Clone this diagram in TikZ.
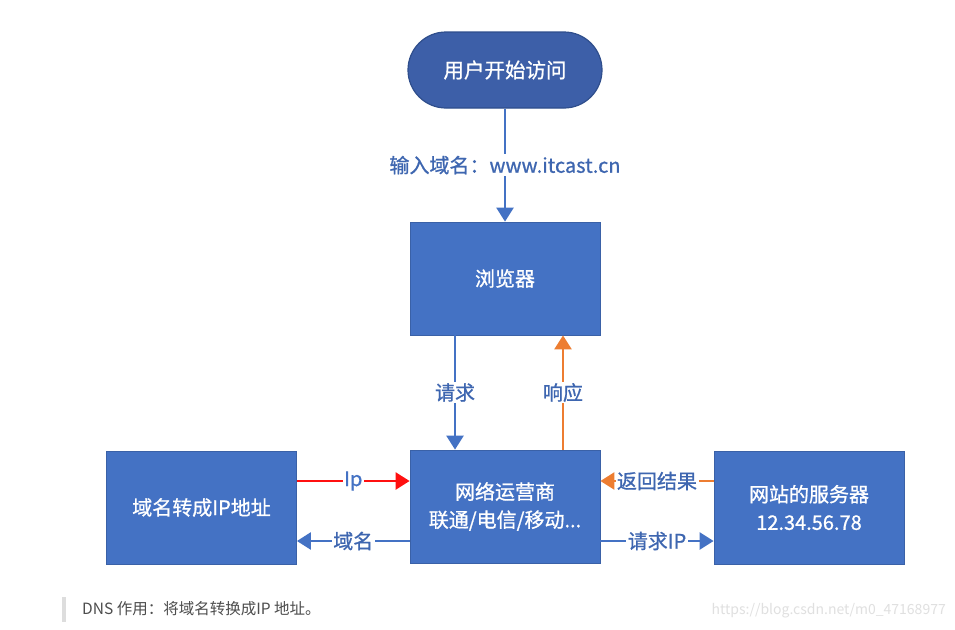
\documentclass[tikz,border=0pt]{standalone}
\usepackage{fontspec}
\setmainfont{Noto Sans CJK SC}
\newfontfamily\medfont[FakeBold=0.9]{Noto Sans CJK SC}
\usetikzlibrary{arrows.meta,calc}
\definecolor{boxblue}{HTML}{4472C4}
\definecolor{darkblue}{HTML}{3D5FA8}
\definecolor{edgeblue}{HTML}{2F4E8C}
\definecolor{lblblue}{HTML}{3E66B0}
\definecolor{orng}{HTML}{ED7D31}
\definecolor{redc}{HTML}{FF1010}
\definecolor{notegray}{HTML}{4D4D4D}
\definecolor{barg}{HTML}{DDDDDD}
\definecolor{wmark}{HTML}{E0E0E0}
\begin{document}
\begin{tikzpicture}[x=1pt,y=-1pt,
  blk/.style={draw=boxblue!85!black,line width=0.8pt,fill=boxblue,text=white,minimum width=190pt,minimum height=113pt,inner sep=0pt,font=\medfont\fontsize{20}{28}\selectfont,align=center},
  term/.style={draw=edgeblue,line width=1.2pt,fill=darkblue,text=white,rounded corners=38pt,minimum width=194pt,minimum height=76pt,font=\medfont\fontsize{20.5}{24}\selectfont},
  conn/.style={line width=2.5pt,-{Triangle[width=17pt,length=14pt]}},
  lbl/.style={fill=white,inner sep=1.5pt,text=lblblue,font=\medfont\fontsize{20}{24}\selectfont}
]
\useasboundingbox[fill=white] (0,0) rectangle (955,629);
\node[term] (start) at (505,70) {用户开始访问};
\node[blk] (browser) at (505,278.5) {浏览器};
\node[blk] (isp) at (505,506.5) {网络运营商\\联通/电信/移动...};
\node[blk] (dns) at (201.5,507.5) {域名转成IP地址};
\node[blk] (web) at (809,507.5) {网站的服务器\\12.34.56.78};
\coordinate (qx) at (455,0);
\coordinate (rx) at (563,0);
\coordinate (ya) at (0,481);
\coordinate (yb) at (0,541);
\draw[conn,boxblue] (start.south) -- node[lbl,pos=0.5]{输入域名：www.itcast.cn} (browser.north);
\draw[conn,boxblue] (browser.south -| qx) -- node[lbl]{请求} (isp.north -| qx);
\draw[conn,orng] (isp.north -| rx) -- node[lbl]{响应} (browser.south -| rx);
\draw[conn,redc] (dns.east |- ya) -- node[lbl,text=boxblue]{Ip} (isp.west |- ya);
\draw[conn,boxblue] (isp.west |- yb) -- node[lbl]{域名} (dns.east |- yb);
\draw[conn,orng] (web.west |- ya) -- node[lbl]{返回结果} (isp.east |- ya);
\draw[conn,boxblue] (isp.east |- yb) -- node[lbl]{请求IP} (web.west |- yb);
\fill[barg] (62,597) rectangle (66,622);
\node[anchor=west,inner sep=0pt,text=notegray,font=\fontsize{15.5}{18}\selectfont] (note) at (82,609) {DNS 作用：将域名转换成IP 地址。};
\node[anchor=east,inner sep=0pt,text=wmark,font=\fontsize{14}{16}\selectfont] (wm) at (946,611) {https://blog.csdn.net/m0\_47168977};
\end{tikzpicture}
\end{document}
